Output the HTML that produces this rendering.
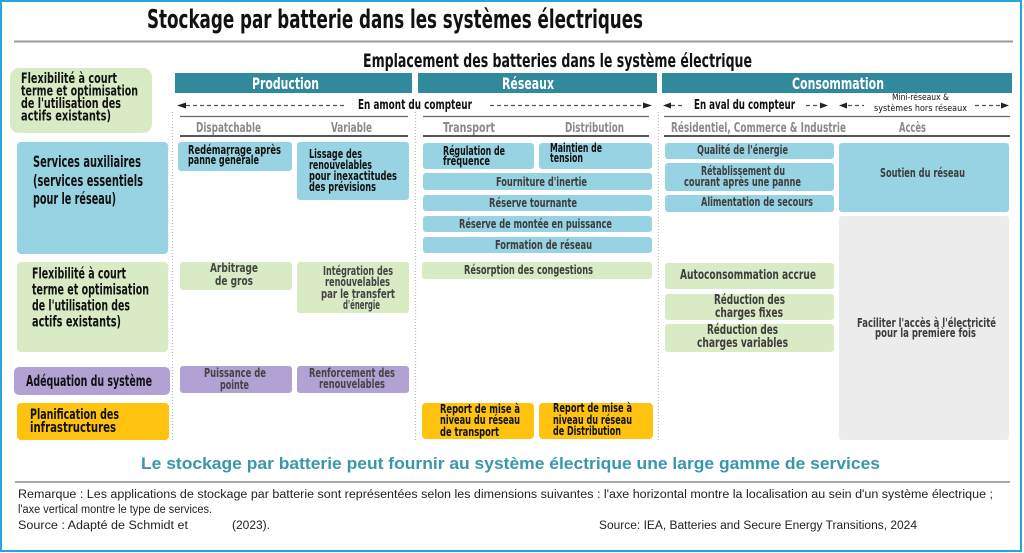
<!DOCTYPE html>
<html><head><meta charset="utf-8"><style>
html,body{margin:0;padding:0;background:#fff;}
svg{display:block;}
.c{font-family:"Liberation Sans Narrow","DejaVu Sans Condensed","Liberation Sans",sans-serif;font-weight:bold;}
.s{font-family:"Liberation Sans","DejaVu Sans",sans-serif;}
</style></head><body>
<svg width="1024" height="553" viewBox="0 0 1024 553" xmlns="http://www.w3.org/2000/svg">
<rect x="0" y="0" width="1024" height="553" fill="#fff"/>
<rect x="1" y="1" width="1020" height="550" fill="none" stroke="#27a6de" stroke-width="2"/>

<!-- Title -->
<text class="c" x="147" y="28" font-size="26" textLength="496" lengthAdjust="spacingAndGlyphs" fill="#111">Stockage par batterie dans les systèmes électriques</text>
<line x1="14" y1="41.5" x2="1013" y2="41.5" stroke="#9a9a9a" stroke-width="2"/>
<text class="c" x="363" y="67" font-size="19" textLength="389" lengthAdjust="spacingAndGlyphs" fill="#111">Emplacement des batteries dans le système électrique</text>

<!-- Top-left legend box -->
<rect x="10" y="68" width="142" height="65" rx="9" fill="#d8ebc4"/>
<g class="c" font-size="14" fill="#111">
<text x="21" y="83" textLength="96" lengthAdjust="spacingAndGlyphs">Flexibilité à court</text>
<text x="21" y="95.5" textLength="117" lengthAdjust="spacingAndGlyphs">terme et optimisation</text>
<text x="21" y="108" textLength="100" lengthAdjust="spacingAndGlyphs">de l'utilisation des</text>
<text x="21" y="120.5" textLength="90" lengthAdjust="spacingAndGlyphs">actifs existants)</text>
</g>

<!-- Header bars -->
<rect x="175" y="73" width="237" height="20" fill="#31899c"/>
<rect x="418" y="73" width="239" height="20" fill="#31899c"/>
<rect x="662" y="73" width="350" height="20" fill="#31899c"/>
<g class="c" font-size="16" fill="#fff">
<text x="252" y="89" textLength="67" lengthAdjust="spacingAndGlyphs">Production</text>
<text x="502" y="89" textLength="52" lengthAdjust="spacingAndGlyphs">Réseaux</text>
<text x="792" y="89" textLength="92" lengthAdjust="spacingAndGlyphs">Consommation</text>
</g>

<!-- Arrow row -->
<g stroke="#555" stroke-width="1.2" stroke-dasharray="4,3" fill="none">
<line x1="186" y1="105.5" x2="346" y2="105.5"/>
<line x1="490" y1="105.5" x2="644" y2="105.5"/>
<line x1="671" y1="105.5" x2="682" y2="105.5"/>
<line x1="806" y1="105.5" x2="820" y2="105.5"/>
<line x1="848" y1="105.5" x2="864" y2="105.5"/>
<line x1="975" y1="105.5" x2="1001" y2="105.5"/>
</g>
<g fill="#222">
<polygon points="177,105.5 186,102.5 186,108.5"/>
<polygon points="652,105.5 643,102.5 643,108.5"/>
<polygon points="663,105.5 671,102.5 671,108.5"/>
<polygon points="828,105.5 820,102.5 820,108.5"/>
<polygon points="839,105.5 847,102.5 847,108.5"/>
<polygon points="1009,105.5 1001,102.5 1001,108.5"/>
</g>
<g class="c" fill="#111">
<text x="358" y="109" font-size="13" textLength="114" lengthAdjust="spacingAndGlyphs">En amont du compteur</text>
<text x="694" y="109" font-size="13" textLength="101" lengthAdjust="spacingAndGlyphs">En aval du compteur</text>
<text x="892" y="100" font-size="9" textLength="57" lengthAdjust="spacingAndGlyphs" font-weight="normal">Mini-réseaux &amp;</text>
<text x="874" y="111" font-size="9" textLength="93" lengthAdjust="spacingAndGlyphs" font-weight="normal">systèmes hors réseaux</text>
</g>

<!-- Sub-header lines -->
<g stroke="#666" stroke-width="1.3">
<line x1="180" y1="116.5" x2="408" y2="116.5"/>
<line x1="423" y1="116.5" x2="649" y2="116.5"/>
<line x1="664" y1="116.5" x2="1010" y2="116.5"/>
</g>
<g stroke="#555" stroke-width="2">
<line x1="180" y1="136" x2="408" y2="136"/>
<line x1="423" y1="136" x2="649" y2="136"/>
<line x1="664" y1="136" x2="1010" y2="136"/>
</g>
<g class="c" font-size="13" fill="#8a8a8a">
<text x="196" y="132" textLength="65" lengthAdjust="spacingAndGlyphs">Dispatchable</text>
<text x="331" y="132" textLength="41" lengthAdjust="spacingAndGlyphs">Variable</text>
<text x="443" y="132" textLength="52" lengthAdjust="spacingAndGlyphs">Transport</text>
<text x="565" y="132" textLength="59" lengthAdjust="spacingAndGlyphs">Distribution</text>
<text x="671" y="132" textLength="175" lengthAdjust="spacingAndGlyphs">Résidentiel, Commerce &amp; Industrie</text>
<text x="899" y="132" textLength="27" lengthAdjust="spacingAndGlyphs">Accès</text>
</g>

<!-- Vertical dotted separators -->
<g stroke="#bdbdbd" stroke-width="1.2" stroke-dasharray="1,2">
<line x1="172.5" y1="112" x2="172.5" y2="442"/>
<line x1="415.5" y1="112" x2="415.5" y2="442"/>
<line x1="658.5" y1="112" x2="658.5" y2="442"/>
</g>

<!-- Left row labels -->
<rect x="17" y="142" width="151" height="112" rx="4" fill="#98d3e3"/>
<rect x="17" y="262" width="151" height="90" rx="4" fill="#d8ebc4"/>
<rect x="14" y="367" width="156" height="28" rx="5" fill="#b2a2d4"/>
<rect x="17" y="403" width="152" height="37" rx="4" fill="#ffc20e"/>
<g class="c" fill="#111">
<text x="33" y="167" font-size="16" textLength="108" lengthAdjust="spacingAndGlyphs">Services auxiliaires</text>
<text x="33" y="186" font-size="16" textLength="110" lengthAdjust="spacingAndGlyphs">(services essentiels</text>
<text x="33" y="204" font-size="16" textLength="83" lengthAdjust="spacingAndGlyphs">pour le réseau)</text>
<text x="32" y="278.5" font-size="15" textLength="94" lengthAdjust="spacingAndGlyphs">Flexibilité à court</text>
<text x="32" y="294.5" font-size="15" textLength="117" lengthAdjust="spacingAndGlyphs">terme et optimisation</text>
<text x="32" y="310.5" font-size="15" textLength="98" lengthAdjust="spacingAndGlyphs">de l'utilisation des</text>
<text x="32" y="326.5" font-size="15" textLength="89" lengthAdjust="spacingAndGlyphs">actifs existants)</text>
<text x="26" y="386" font-size="15" textLength="126" lengthAdjust="spacingAndGlyphs">Adéquation du système</text>
<text x="30" y="419" font-size="14" textLength="89" lengthAdjust="spacingAndGlyphs">Planification des</text>
<text x="30" y="432" font-size="14" textLength="86" lengthAdjust="spacingAndGlyphs">infrastructures</text>
</g>

<!-- Production column boxes -->
<rect x="178" y="142" width="114" height="29" rx="3" fill="#98d3e3"/>
<rect x="297" y="142" width="112" height="58" rx="3" fill="#98d3e3"/>
<rect x="180" y="262" width="112" height="28" rx="3" fill="#d8ebc4"/>
<rect x="297" y="262" width="112" height="51" rx="3" fill="#d8ebc4"/>
<rect x="180" y="366" width="112" height="27" rx="3" fill="#b2a2d4"/>
<rect x="297" y="366" width="112" height="27" rx="3" fill="#b2a2d4"/>
<g class="c" font-size="12" fill="#111">
<text x="188" y="154" textLength="93" lengthAdjust="spacingAndGlyphs">Redémarrage après</text>
<text x="188" y="164" textLength="71" lengthAdjust="spacingAndGlyphs">panne générale</text>
<text x="309" y="158" textLength="53" lengthAdjust="spacingAndGlyphs">Lissage des</text>
<text x="309" y="169" textLength="63" lengthAdjust="spacingAndGlyphs">renouvelables</text>
<text x="309" y="180" textLength="88" lengthAdjust="spacingAndGlyphs">pour  inexactitudes</text>
<text x="309" y="191" textLength="67" lengthAdjust="spacingAndGlyphs">des prévisions</text>
</g>
<g class="c" font-size="12" fill="#444">
<text x="210" y="272" textLength="48" lengthAdjust="spacingAndGlyphs">Arbitrage</text>
<text x="215" y="285" textLength="38" lengthAdjust="spacingAndGlyphs">de gros</text>
<text x="323" y="275" textLength="70" lengthAdjust="spacingAndGlyphs">Intégration des</text>
<text x="325" y="286" textLength="65" lengthAdjust="spacingAndGlyphs">renouvelables</text>
<text x="321" y="298" textLength="74" lengthAdjust="spacingAndGlyphs">par le transfert</text>
<text x="343" y="309" textLength="37" lengthAdjust="spacingAndGlyphs">d'énergie</text>
<text x="204" y="377" textLength="62" lengthAdjust="spacingAndGlyphs">Puissance de</text>
<text x="220" y="389" textLength="29" lengthAdjust="spacingAndGlyphs">pointe</text>
<text x="309" y="377" textLength="86" lengthAdjust="spacingAndGlyphs">Renforcement des</text>
<text x="319" y="388" textLength="66" lengthAdjust="spacingAndGlyphs">renouvelables</text>
</g>

<!-- Réseaux column boxes -->
<rect x="423" y="143" width="111" height="26" rx="3" fill="#98d3e3"/>
<rect x="539" y="143" width="113" height="26" rx="3" fill="#98d3e3"/>
<rect x="423" y="173" width="229" height="17" rx="3" fill="#98d3e3"/>
<rect x="423" y="195" width="229" height="16" rx="3" fill="#98d3e3"/>
<rect x="423" y="216" width="229" height="16" rx="3" fill="#98d3e3"/>
<rect x="423" y="237" width="229" height="16" rx="3" fill="#98d3e3"/>
<rect x="422" y="262" width="230" height="17" rx="3" fill="#d8ebc4"/>
<rect x="422" y="403" width="112" height="36" rx="4" fill="#ffc20e"/>
<rect x="539" y="403" width="114" height="36" rx="4" fill="#ffc20e"/>
<g class="c" font-size="12" fill="#111">
<text x="443" y="155" textLength="62" lengthAdjust="spacingAndGlyphs">Régulation de</text>
<text x="443" y="165" textLength="47" lengthAdjust="spacingAndGlyphs">fréquence</text>
<text x="550" y="152" textLength="52" lengthAdjust="spacingAndGlyphs">Maintien de</text>
<text x="550" y="162" textLength="33" lengthAdjust="spacingAndGlyphs">tension</text>
<text x="440" y="413" textLength="80" lengthAdjust="spacingAndGlyphs">Report de mise à</text>
<text x="440" y="424" textLength="80" lengthAdjust="spacingAndGlyphs">niveau du réseau</text>
<text x="440" y="436" textLength="59" lengthAdjust="spacingAndGlyphs">de transport</text>
<text x="553" y="412" textLength="79" lengthAdjust="spacingAndGlyphs">Report de mise à</text>
<text x="553" y="424" textLength="79" lengthAdjust="spacingAndGlyphs">niveau du réseau</text>
<text x="553" y="435" textLength="68" lengthAdjust="spacingAndGlyphs">de Distribution</text>
</g>
<g class="c" font-size="12" fill="#3d3d3d">
<text x="496" y="186" textLength="91" lengthAdjust="spacingAndGlyphs">Fourniture d'inertie</text>
<text x="489" y="207" textLength="88" lengthAdjust="spacingAndGlyphs">Réserve tournante</text>
<text x="459" y="228" textLength="153" lengthAdjust="spacingAndGlyphs">Réserve de montée en puissance</text>
<text x="495" y="249" textLength="97" lengthAdjust="spacingAndGlyphs">Formation de réseau</text>
<text x="464" y="274" textLength="129" lengthAdjust="spacingAndGlyphs">Résorption des congestions</text>
</g>

<!-- Consommation column boxes -->
<rect x="665" y="143" width="169" height="16" rx="3" fill="#98d3e3"/>
<rect x="665" y="163" width="169" height="28" rx="3" fill="#98d3e3"/>
<rect x="665" y="195" width="169" height="17" rx="3" fill="#98d3e3"/>
<rect x="839" y="143" width="170" height="69" rx="3" fill="#98d3e3"/>
<rect x="839" y="216" width="170" height="224" rx="3" fill="#ececec"/>
<rect x="665" y="263" width="169" height="26" rx="3" fill="#d8ebc4"/>
<rect x="665" y="294" width="169" height="26" rx="3" fill="#d8ebc4"/>
<rect x="665" y="324" width="169" height="28" rx="3" fill="#d8ebc4"/>
<g class="c" font-size="12" fill="#3d3d3d">
<text x="697" y="154" textLength="91" lengthAdjust="spacingAndGlyphs">Qualité de l'énergie</text>
<text x="701" y="175" textLength="84" lengthAdjust="spacingAndGlyphs">Rétablissement du</text>
<text x="684" y="186" textLength="117" lengthAdjust="spacingAndGlyphs">courant après une panne</text>
<text x="701" y="206" textLength="112" lengthAdjust="spacingAndGlyphs">Alimentation de secours</text>
<text x="880" y="177" textLength="85" lengthAdjust="spacingAndGlyphs">Soutien du réseau</text>
<text x="857" y="327" textLength="139" lengthAdjust="spacingAndGlyphs">Faciliter l'accès à l'électricité</text>
<text x="875" y="337" textLength="101" lengthAdjust="spacingAndGlyphs">pour la première fois</text>
<text x="680" y="279" font-size="13" textLength="136" lengthAdjust="spacingAndGlyphs">Autoconsommation accrue</text>
<text x="714" y="304" font-size="13" textLength="71" lengthAdjust="spacingAndGlyphs">Réduction des</text>
<text x="715" y="317" font-size="13" textLength="68" lengthAdjust="spacingAndGlyphs">charges fixes</text>
<text x="707" y="334" font-size="13" textLength="71" lengthAdjust="spacingAndGlyphs">Réduction des</text>
<text x="697" y="347" font-size="13" textLength="91" lengthAdjust="spacingAndGlyphs">charges variables</text>
</g>

<!-- Bottom caption -->
<text class="s" x="141" y="469" font-size="16.5" font-weight="bold" fill="#3a96ad" textLength="739" lengthAdjust="spacingAndGlyphs">Le stockage par batterie peut fournir au  système électrique une large gamme de services</text>
<line x1="15" y1="482" x2="1010" y2="482" stroke="#a8a8a8" stroke-width="2"/>
<g class="s" font-size="11.5" fill="#222">
<text x="18" y="498" textLength="975" lengthAdjust="spacingAndGlyphs">Remarque : Les applications de stockage par batterie sont représentées selon les dimensions suivantes : l'axe horizontal montre la localisation au sein d'un système électrique ;</text>
<text x="18" y="513" textLength="194" lengthAdjust="spacingAndGlyphs">l'axe vertical montre le type de services.</text>
<text x="18" y="529" textLength="170" lengthAdjust="spacingAndGlyphs">Source : Adapté de Schmidt et</text>
<text x="232" y="529" textLength="38" lengthAdjust="spacingAndGlyphs">(2023).</text>
<text x="599" y="529" textLength="318" lengthAdjust="spacingAndGlyphs">Source: IEA, Batteries and Secure Energy Transitions, 2024</text>
</g>
</svg>
</body></html>
